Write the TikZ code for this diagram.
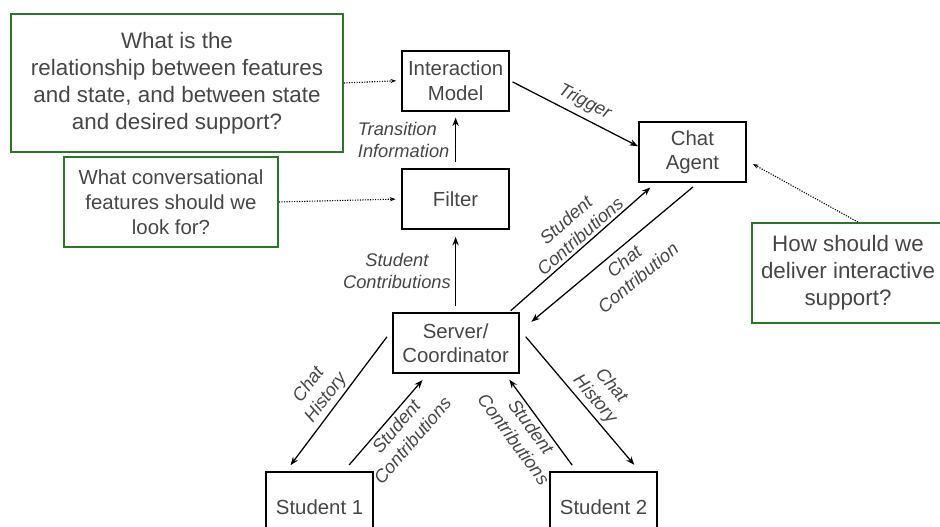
\documentclass[tikz,border=0pt]{standalone}
\usepackage{fontspec}
\setmainfont{Liberation Sans}
\usetikzlibrary{arrows.meta}
\definecolor{qgreen}{RGB}{40,120,40}
\definecolor{txtgray}{RGB}{70,70,70}

\begin{document}
\begin{tikzpicture}[box/.style={draw, line width=1.3pt, minimum width=2.675cm, minimum height=1.5cm, align=center, text=txtgray, font=\fontsize{14.5}{17.3}\selectfont},
    question/.style={draw=qgreen, line width=1.3pt, align=center, text=txtgray, inner sep=0pt},
    lbl/.style={text=txtgray, font=\fontsize{13}{15.3}\selectfont\itshape, align=center, inner sep=2pt},
    flow/.style={line width=0.9pt, -{Stealth[length=6pt, width=4.5pt]}},
    hint/.style={line width=0.8pt, dash pattern=on 0.8pt off 1pt, -{Stealth[length=4pt, width=3pt]}}]

    \useasboundingbox (0,0) rectangle (23.5,13.175);
    \clip (0,0) rectangle (23.5,13.175);

    \node[box] (im) at (11.39,11.16) {Interaction\\Model};
    \node[box] (filter) at (11.39,8.2) {Filter};
    \node[box] (agent) at (17.31,9.375) {Chat\\Agent};
    \node[box, minimum width=3.15cm] (server) at (11.39,4.6) {Server/\\Coordinator};
    \node[box, minimum height=1.75cm] (stu1) at (7.99,0.5) {Student 1};
    \node[box, minimum height=1.75cm] (stu2) at (15.09,0.5) {Student 2};

    \node[question, minimum width=8.3cm, minimum height=3.45cm, font=\fontsize{15.9}{19.2}\selectfont] (qA) at (4.425,11.1) {What is the\\relationship between features\\and state, and between state\\and desired support?};
    \node[question, minimum width=5.35cm, minimum height=2.25cm, font=\fontsize{14.5}{17.8}\selectfont] (qB) at (4.275,8.125) {What conversational\\features should we\\look for?};
    \node[question, minimum width=4.8cm, minimum height=2.5cm, font=\fontsize{15.9}{19.2}\selectfont] (qC) at (21.2,6.35) {How should we\\deliver interactive\\support?};

    \draw[flow, shorten <=4.3pt, shorten >=4.3pt] (filter.north) -- node[lbl, left=2pt, align=left] {Transition\\Information} (im.south);
    \draw[flow, shorten <=4.3pt, shorten >=5pt] (server.north) -- node[lbl, left=1pt] {Student\\Contributions} (filter.south);
    \draw[flow, shorten <=2pt] (im.east) -- node[lbl, sloped, above=2pt, pos=0.53] {Trigger} (agent.174);

    \draw[flow, shorten <=1.5pt, shorten >=5pt] (server.30) -- node[lbl, sloped, above, pos=0.53] {Student\\Contributions} (agent.220);
    \draw[flow, shorten <=4.5pt, shorten >=11pt] (agent.280) -- node[lbl, sloped, below=2pt, pos=0.46] {Chat\\Contribution} (server.10);

    \draw[flow, shorten <=5.6pt, shorten >=5.2pt] (server.169) -- node[lbl, sloped, above, pos=0.53] {Chat\\History} (stu1.133);
    \draw[flow, shorten <=5.7pt, shorten >=5.7pt] (stu1.56) -- node[lbl, sloped, below, pos=0.53] {Student\\Contributions} (server.228);
    \draw[flow, shorten <=5.2pt, shorten >=5.1pt] (stu2.127) -- node[lbl, sloped, below, pos=0.52] {Student\\Contributions} (server.328);
    \draw[flow, shorten <=6.8pt, shorten >=5.8pt] (server.12) -- node[lbl, sloped, above, pos=0.55] {Chat\\History} (stu2.45);

    \draw[hint, shorten >=3.6pt] (qA.east) -- (im.west);
    \draw[hint, shorten >=4pt] (qB.east) -- (filter.west);
    \draw[hint, shorten >=5pt] (qC.79) -- (agent.351);

\end{tikzpicture}
\end{document}
